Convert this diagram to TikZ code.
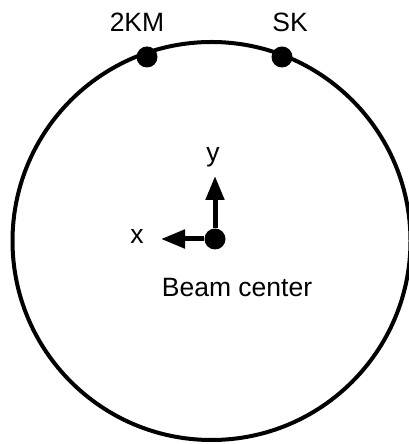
\documentclass[tikz,border=0pt]{standalone}
\usepackage{fontspec}
\setmainfont{Liberation Sans}
\usetikzlibrary{arrows.meta}

\begin{document}
\begin{tikzpicture}[x=1bp, y=1bp, >={Triangle[length=24bp, width=18bp]},
    dot/.style={circle, fill, inner sep=0pt, minimum size=21bp},
    lbl/.style={inner sep=0pt, font=\fontsize{26.5bp}{31bp}\selectfont}]
    \useasboundingbox (0,0) rectangle (408,444);
    % detector ring
    \draw[line width=4bp] (211.5,203) circle[radius=199];
    \node[dot] (km) at (147,387) {};
    \node[dot] (sk) at (282,387) {};
    \node[lbl] (kmlabel) at (137,422) {2KM};
    \node[lbl] (sklabel) at (290,422) {SK};
    % beam center and axes
    \node[dot] (beam) at (215,205) {};
    \coordinate (ytip) at (215,268);
    \coordinate (xtip) at (161,205);
    \draw[->, line width=5bp] (beam) -- (ytip);
    \draw[->, line width=5bp] (beam) -- (xtip);
    \node[lbl] (ylabel) at (213,287) {y};
    \node[lbl] (xlabel) at (137,207) {x};
    \node[lbl] (beamlabel) at (237,156) {Beam center};
\end{tikzpicture}
\end{document}
